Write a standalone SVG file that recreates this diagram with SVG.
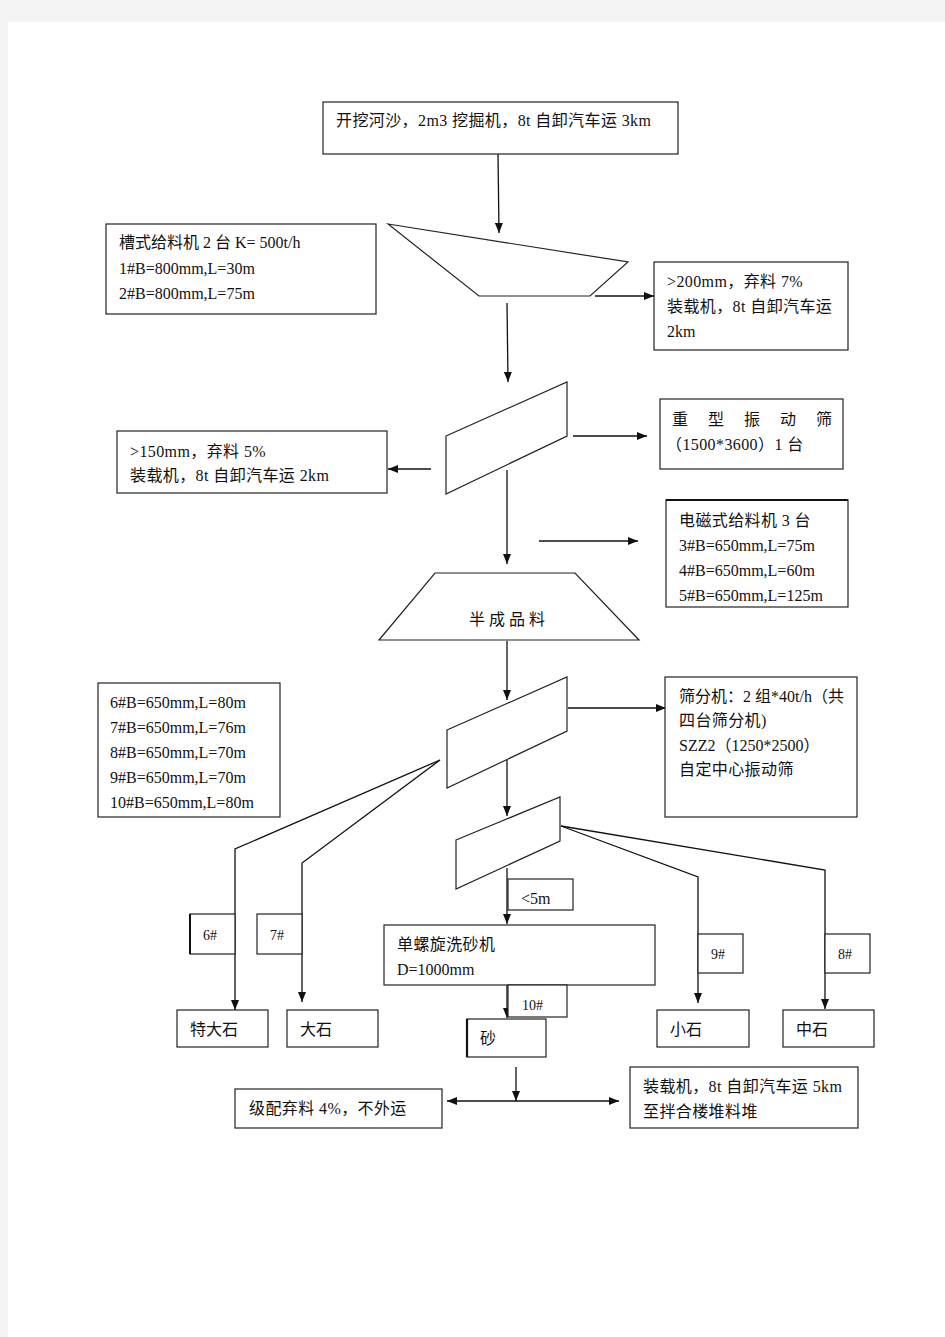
<svg xmlns="http://www.w3.org/2000/svg" width="945" height="1337" viewBox="0 0 945 1337">
<defs>
<style>
.bx{fill:#fff;stroke:#222;stroke-width:1.2}
.sh{fill:#fff;stroke:#222;stroke-width:1.2}
.ln{fill:none;stroke:#111;stroke-width:1.3}
.ar{fill:none;stroke:#111;stroke-width:1.3;marker-end:url(#ah)}
.t{font-family:"Liberation Serif","Noto Sans CJK SC",serif;font-size:16px;fill:#111}
.c{letter-spacing:0.4px}
.s{font-family:"Liberation Serif","Noto Sans CJK SC",serif;font-size:14px;fill:#111}
</style>
<marker id="ah" viewBox="0 0 10 8" refX="10" refY="4" markerWidth="10" markerHeight="8" markerUnits="userSpaceOnUse" orient="auto"><path d="M0,0 L10,4 L0,8 z" fill="#111"/></marker>
<marker id="as" viewBox="0 0 10 8" refX="0" refY="4" markerWidth="10" markerHeight="8" markerUnits="userSpaceOnUse" orient="auto"><path d="M10,0 L0,4 L10,8 z" fill="#111"/></marker>
</defs>
<rect x="0" y="0" width="945" height="1337" fill="#f3f3f3"/>
<rect x="8" y="22" width="937" height="1315" fill="#fff"/>

<g id="connectors">
<line class="ar" x1="498" y1="154" x2="499" y2="233"/>
<line class="ar" x1="595" y1="296" x2="654" y2="296"/>
<line class="ar" x1="507" y1="303" x2="508" y2="382"/>
<line class="ar" x1="573" y1="436" x2="647" y2="436"/>
<line class="ar" x1="431" y1="469" x2="388" y2="469"/>
<line class="ar" x1="507" y1="470" x2="507" y2="564"/>
<line class="ar" x1="539" y1="541" x2="638" y2="541"/>
<line class="ar" x1="507" y1="641" x2="507" y2="700"/>
<line class="ar" x1="568" y1="708" x2="666" y2="708"/>
<line class="ar" x1="507" y1="760" x2="507" y2="816"/>
<polyline class="ar" points="440,760 235,849 235,1010"/>
<polyline class="ar" points="440,760 302,863 302,1002"/>
<line class="ar" x1="507" y1="868" x2="507" y2="924"/>
<line class="ar" x1="507" y1="985" x2="507" y2="1018"/>
<polyline class="ar" points="561,826 698,877 698,1003"/>
<polyline class="ar" points="561,826 825,870 825,1009"/>
<line class="ar" x1="516" y1="1067" x2="516" y2="1101"/>
<line class="ln" x1="447" y1="1101" x2="619" y2="1101" style="marker-start:url(#as);marker-end:url(#ah)"/>
</g>

<g id="n-source">
<rect class="bx" x="323" y="102" width="355" height="52"/>
<text class="t c" x="336" y="126">开挖河沙，2m3 挖掘机，8t 自卸汽车运 3km</text>
</g>

<g id="n-feeder1">
<rect class="bx" x="106" y="224" width="270" height="90"/>
<text class="t" x="119" y="248">槽式给料机 2 台 K=  500t/h</text>
<text class="t" x="119" y="274">1#B=800mm,L=30m</text>
<text class="t" x="119" y="299">2#B=800mm,L=75m</text>
</g>

<g id="n-hopper">
<polygon class="sh" points="388,224 628,262 590,296 479,296"/>
</g>

<g id="n-reject200">
<rect class="bx" x="654" y="262" width="194" height="88"/>
<text class="t c" x="667" y="287">&gt;200mm，弃料 7%</text>
<text class="t c" x="667" y="312">装载机，8t  自卸汽车运</text>
<text class="t" x="667" y="337">2km</text>
</g>

<g id="n-screen1">
<polygon class="sh" points="446,436 567,382 567,436 446,494"/>
</g>

<g id="n-heavyscreen">
<rect class="bx" x="660" y="399" width="183" height="70"/>
<text class="t" y="425"><tspan x="672">重</tspan><tspan x="708">型</tspan><tspan x="744">振</tspan><tspan x="780">动</tspan><tspan x="816">筛</tspan></text>
<text class="t c" x="666" y="450">（1500*3600）1 台</text>
</g>

<g id="n-reject150">
<rect class="bx" x="117" y="431" width="270" height="62"/>
<text class="t c" x="130" y="457">&gt;150mm，弃料 5%</text>
<text class="t c" x="130" y="481">装载机，8t 自卸汽车运 2km</text>
</g>

<g id="n-feeder2">
<rect class="bx" x="666" y="500" width="182" height="107"/>
<line x1="666" y1="500" x2="848" y2="500" stroke="#111" stroke-width="2"/>
<text class="t c" x="679" y="526">电磁式给料机 3 台</text>
<text class="t" x="679" y="551">3#B=650mm,L=75m</text>
<text class="t" x="679" y="576">4#B=650mm,L=60m</text>
<text class="t" x="679" y="601">5#B=650mm,L=125m</text>
</g>

<g id="n-semi">
<polygon class="sh" points="435,573 575,573 639,640 379,640"/>
<text class="t" x="469" y="625" style="letter-spacing:4px">半成品料</text>
</g>

<g id="n-conveyors">
<rect class="bx" x="98" y="683" width="182" height="134"/>
<text class="t" x="110" y="708">6#B=650mm,L=80m</text>
<text class="t" x="110" y="733">7#B=650mm,L=76m</text>
<text class="t" x="110" y="758">8#B=650mm,L=70m</text>
<text class="t" x="110" y="783">9#B=650mm,L=70m</text>
<text class="t" x="110" y="808">10#B=650mm,L=80m</text>
</g>

<g id="n-screen2">
<polygon class="sh" points="447,730 567,677 567,731 447,788"/>
</g>

<g id="n-sieve">
<rect class="bx" x="665" y="677" width="192" height="140"/>
<text class="t" x="679" y="702">筛分机：2 组*40t/h（共</text>
<text class="t c" x="679" y="726">四台筛分机)</text>
<text class="t" x="679" y="751">SZZ2（1250*2500）</text>
<text class="t c" x="679" y="775">自定中心振动筛</text>
</g>

<g id="n-screen3">
<polygon class="sh" points="456,840 560,797 560,841 456,889"/>
</g>

<g id="n-l6">
<rect class="bx" x="190" y="914" width="45" height="40"/>
<line x1="190" y1="914" x2="190" y2="954" stroke="#111" stroke-width="2"/>
<text class="s" x="203" y="940">6#</text>
</g>
<g id="n-l7">
<rect class="bx" x="257" y="914" width="45" height="40"/>
<text class="s" x="270" y="940">7#</text>
</g>

<g id="n-lt5">
<rect class="bx" x="508" y="879" width="65" height="31"/>
<text class="t" x="521" y="904">&lt;5m</text>
</g>

<g id="n-washer">
<rect class="bx" x="384" y="925" width="271" height="60"/>
<text class="t c" x="397" y="950">单螺旋洗砂机</text>
<text class="t" x="397" y="975">D=1000mm</text>
</g>

<g id="n-l10">
<rect class="bx" x="508" y="985" width="59" height="32"/>
<text class="s" x="522" y="1010">10#</text>
</g>

<g id="n-l9">
<rect class="bx" x="698" y="934" width="45" height="39"/>
<text class="s" x="711" y="959">9#</text>
</g>
<g id="n-l8">
<rect class="bx" x="825" y="934" width="45" height="39"/>
<text class="s" x="838" y="959">8#</text>
</g>

<g id="n-xl">
<rect class="bx" x="177" y="1010" width="91" height="37"/>
<text class="t" x="190" y="1035">特大石</text>
</g>
<g id="n-large">
<rect class="bx" x="287" y="1010" width="91" height="37"/>
<text class="t" x="300" y="1035">大石</text>
</g>
<g id="n-sand">
<rect class="bx" x="467" y="1019" width="79" height="38"/>
<line x1="467" y1="1019" x2="467" y2="1057" stroke="#111" stroke-width="2.2"/>
<text class="t" x="480" y="1044">砂</text>
</g>
<g id="n-small">
<rect class="bx" x="657" y="1010" width="92" height="37"/>
<text class="t" x="670" y="1035">小石</text>
</g>
<g id="n-medium">
<rect class="bx" x="783" y="1010" width="91" height="37"/>
<text class="t" x="796" y="1035">中石</text>
</g>

<g id="n-waste">
<rect class="bx" x="235" y="1089" width="207" height="39"/>
<text class="t c" x="249" y="1114">级配弃料 4%，不外运</text>
</g>
<g id="n-transport">
<rect class="bx" x="630" y="1067" width="228" height="61"/>
<text class="t c" x="643" y="1092">装载机，8t 自卸汽车运 5km</text>
<text class="t c" x="643" y="1117">至拌合楼堆料堆</text>
</g>
</svg>
